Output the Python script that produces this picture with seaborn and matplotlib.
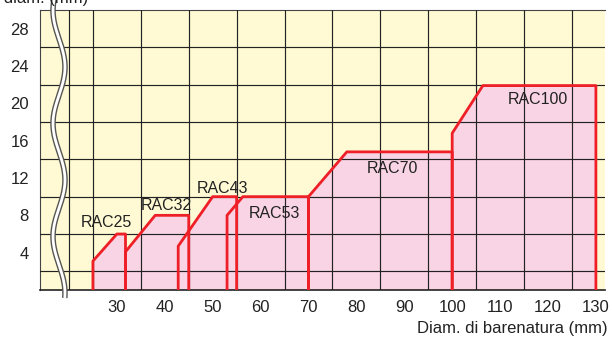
import numpy as np
import matplotlib
matplotlib.use('Agg')
import matplotlib.pyplot as plt
import matplotlib.transforms as mtransforms
import seaborn as sns

# outline of each working range: (diameter mm, value mm)
models = ['RAC25', 'RAC32', 'RAC43', 'RAC53', 'RAC70', 'RAC100']
range_x = [
    [25, 25, 30, 31.8, 31.8],
    [31.8, 31.8, 38, 45, 45],
    [42.8, 42.8, 50, 55, 55],
    [53, 53, 56.3, 70, 70],
    [70, 70, 78, 100, 100],
    [100, 100, 106.4, 130, 130],
]
range_y = [
    [0, 3.1, 6, 6, 0],
    [0, 4.1, 8, 8, 0],
    [0, 4.7, 10, 10, 0],
    [0, 8, 10, 10, 0],
    [0, 10, 14.8, 14.8, 0],
    [0, 16.8, 21.9, 21.9, 0],
]
label_x = [27.8, 40.3, 52.1, 62.9, 87.6, 117.8]
label_y = [7.2, 9.0, 10.9, 8.15, 13.0, 20.4]

x_ticks = [30, 40, 50, 60, 70, 80, 90, 100, 110, 120, 130]
y_ticks = [4, 8, 12, 16, 20, 24, 28]

cream = '#fffad3'
pink = '#f8d4e4'
red = '#ee1f26'
ink = '#222222'

sns.set_style('white')
plt.rcParams['font.family'] = ['Liberation Sans', 'DejaVu Sans']

fig = plt.figure(figsize=(6.12, 3.38), dpi=100)
ax = fig.add_axes([40 / 612, 1 - 290 / 338, 565 / 612, 280 / 338])
ax.set_facecolor(cream)
ax.set_xlim(13.95, 131.9)
ax.set_ylim(0, 30)

for xs, ys in zip(range_x, range_y):
    ax.fill(xs, ys, color=pink, lw=0, zorder=1)

# grid every 5 mm / 2 mm drawn over the fills
ax.set_xticks(np.arange(20, 131, 5), minor=True)
ax.set_yticks(np.arange(2, 30, 2), minor=True)
ax.set_xticks(x_ticks)
ax.set_yticks(y_ticks)
ax.set_axisbelow(False)
ax.grid(which='minor', color=ink, lw=0.85)
ax.tick_params(which='both', length=0)
ax.tick_params(axis='x', pad=7, labelsize=12, labelcolor=ink)
ax.tick_params(axis='y', pad=8, labelsize=12, labelcolor=ink)

for xs, ys in zip(range_x, range_y):
    sns.lineplot(x=xs, y=ys, sort=False, estimator=None, color=red, lw=2.0,
                 ax=ax, zorder=4)

for name, lx, ly in zip(models, label_x, label_y):
    ax.text(lx, ly, name, ha='center', va='center', fontsize=11.5, color=ink, zorder=5)

for side in ['top', 'left']:
    ax.spines[side].set_color('#444444')
    ax.spines[side].set_linewidth(0.8)
ax.spines['right'].set_visible(False)
ax.spines['bottom'].set_color(ink)
ax.spines['bottom'].set_linewidth(1.2)

# axis break (wavy double line)
trans = mtransforms.blended_transform_factory(ax.transData, ax.transAxes)
py = np.linspace(-3, 298, 300)
px = 59 + 6 * np.cos(2 * np.pi * (py - 67) / 113)
bx = 13.95 + (px - 40) / 4.791
by = (290 - py) / 280
ax.plot(bx, by, transform=trans, color='#555555', lw=4.0, clip_on=False, zorder=6,
        solid_capstyle='butt')
ax.plot(bx, by, transform=trans, color='white', lw=2.0, clip_on=False, zorder=7,
        solid_capstyle='butt')

ax.set_xlabel('Diam. di barenatura (mm)', fontsize=12, color=ink, ha='right', va='center')
ax.xaxis.set_label_coords((608 - 40) / 565, (290 - 328) / 280)
fig.text(88 / 612, 1 - 3 / 338, 'Barra diam. (mm)', ha='right', va='baseline',
         fontsize=12, color=ink)

fig.savefig('out.png', dpi=100)
